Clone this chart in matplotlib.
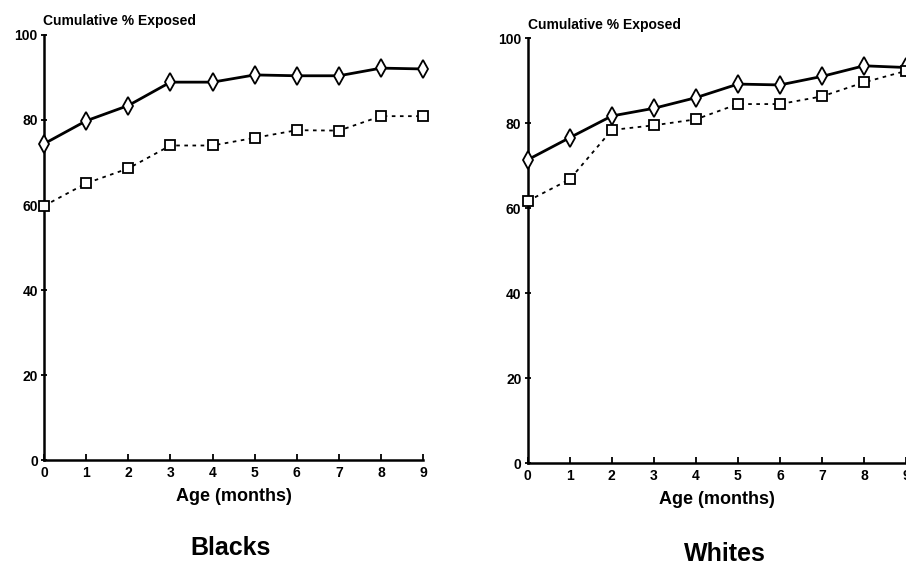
import numpy as np
import matplotlib.pyplot as plt

plt.rcParams['font.family'] = ['Liberation Sans', 'DejaVu Sans']

months = [0, 1, 2, 3, 4, 5, 6, 7, 8, 9]
yticks = [0, 20, 40, 60, 80, 100]

blacks_diamond = [74.4, 79.8, 83.4, 88.9, 88.9, 90.6, 90.4, 90.4, 92.2, 92.0]
blacks_square = [59.8, 65.1, 68.6, 74.0, 74.0, 75.8, 77.6, 77.5, 80.9, 80.9]
whites_diamond = [71.4, 76.6, 81.7, 83.5, 86.0, 89.2, 89.0, 91.0, 93.5, 93.1]
whites_square = [61.7, 66.8, 78.4, 79.5, 80.9, 84.5, 84.5, 86.3, 89.6, 92.3]

fig = plt.figure(figsize=(9.06, 5.73), dpi=100)
ax1 = fig.add_axes([0.0486, 0.197, 0.4185, 0.742])
ax2 = fig.add_axes([0.5825, 0.1914, 0.4175, 0.742])


def panel(ax, dia, sq, ylab_x, ylab_y):
    ax.plot(months, dia, color='black', lw=2, marker='d', ms=9, mfc='white',
            mec='black', mew=1.3, clip_on=False, zorder=3)
    ax.plot(months, sq, color='black', lw=1.3, ls=(0, (2, 2.5)), marker='s',
            ms=7, mfc='white', mec='black', mew=1.3, clip_on=False, zorder=3)
    ax.set_xlim(0, 9)
    ax.set_ylim(0, 100)
    ax.set_xticks(months)
    ax.set_yticks(yticks)
    for s in ['top', 'right']:
        ax.spines[s].set_visible(False)
    for s in ['left', 'bottom']:
        ax.spines[s].set_linewidth(1.8)
    ax.tick_params(axis='x', direction='in', length=4, width=1.3, pad=4,
                   labelsize=10)
    ax.tick_params(axis='y', direction='inout', length=5, width=1.3, pad=2,
                   labelsize=10)
    for lab in ax.get_xticklabels() + ax.get_yticklabels():
        lab.set_fontweight('bold')
    ax.set_xlabel('Age (months)', fontsize=13, fontweight='bold', labelpad=6)
    fig.text(ylab_x, ylab_y, 'Cumulative % Exposed', fontsize=10,
             fontweight='bold', va='center', ha='left')
    return ax


panel(ax1, blacks_diamond, blacks_square, 0.047, 0.963)
panel(ax2, whites_diamond, whites_square, 0.583, 0.956)

fig.text(0.254, 0.023, 'Blacks', fontsize=18, fontweight='bold',
         ha='center', va='bottom')
fig.text(0.80, 0.013, 'Whites', fontsize=18, fontweight='bold',
         ha='center', va='bottom')

fig.savefig('out.png', dpi=100)
